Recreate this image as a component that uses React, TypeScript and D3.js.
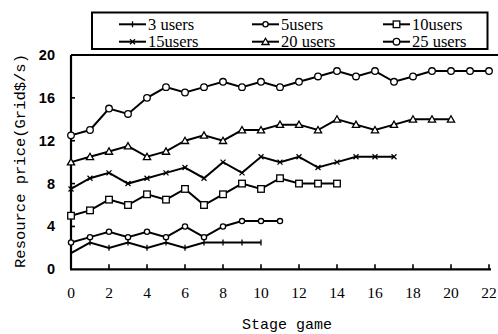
import React from "react";
import * as d3 from "d3";

const stages3 = d3.range(0, 11);
const users3 = [1.5, 2.5, 2, 2.5, 2, 2.5, 2, 2.5, 2.5, 2.5, 2.5];
const users5 = [2.5, 3, 3.5, 3, 3.5, 3, 4, 3, 4, 4.5, 4.5, 4.5];
const users10 = [5, 5.5, 6.5, 6, 7, 6.5, 7.5, 6, 7, 8, 7.5, 8.5, 8, 8, 8];
const users15 = [7.5, 8.5, 9, 8, 8.5, 9, 9.5, 8.5, 10, 9, 10.5, 10, 10.5, 9.5, 10, 10.5, 10.5, 10.5];
const users20 = [10, 10.5, 11, 11.5, 10.5, 11, 12, 12.5, 12, 13, 13, 13.5, 13.5, 13, 14, 13.5, 13, 13.5, 14, 14, 14];
const users25 = [12.5, 13, 15, 14.5, 16, 17, 16.5, 17, 17.5, 17, 17.5, 17, 17.5, 18, 18.5, 18, 18.5, 17.5, 18, 18.5, 18.5, 18.5, 18.5];

const seriesNames = ["3 users", "5users", "10users", "15users", "20 users", "25 users"];
const seriesValues = [users3, users5, users10, users15, users20, users25];
const markerTypes = ["plus", "smallCircle", "square", "cross", "triangle", "circle"];

const xTicks = d3.range(0, 23, 2);
const yTicks = [0, 4, 8, 12, 16, 20];

function Marker({ type, x, y }: { type: string; x: number; y: number }) {
  const sw = 1.3;
  switch (type) {
    case "plus":
      return <line x1={x} x2={x} y1={y - 3} y2={y + 3} stroke="#000" strokeWidth={sw} />;
    case "smallCircle":
      return <circle cx={x} cy={y} r={2.6} fill="#fff" stroke="#000" strokeWidth={sw} />;
    case "square":
      return <rect x={x - 3.3} y={y - 3.3} width={6.6} height={6.6} fill="#fff" stroke="#000" strokeWidth={sw} />;
    case "cross":
      return (
        <g stroke="#000" strokeWidth={sw}>
          <line x1={x - 2.5} x2={x + 2.5} y1={y - 2.5} y2={y + 2.5} />
          <line x1={x - 2.5} x2={x + 2.5} y1={y + 2.5} y2={y - 2.5} />
        </g>
      );
    case "triangle":
      return (
        <path
          d={`M${x},${y - 3.5}L${x + 3.6},${y + 2.8}L${x - 3.6},${y + 2.8}Z`}
          fill="#fff"
          stroke="#000"
          strokeWidth={sw}
        />
      );
    default:
      return <circle cx={x} cy={y} r={3.3} fill="#fff" stroke="#000" strokeWidth={sw} />;
  }
}

export default function App() {
  const W = 498;
  const H = 334;
  const x = d3.scaleLinear().domain([0, 22]).range([71, 489]);
  const y = d3.scaleLinear().domain([0, 20]).range([269.3, 55]);
  const line = d3
    .line<number>()
    .x((_, i) => x(i))
    .y((d) => y(d));

  const legendCols = [119, 252, 383];
  const legendRows = [24.3, 41.7];

  return (
    <svg
      width={W}
      height={H}
      style={{ position: "absolute", left: 0, top: 0, background: "#fff" }}
      fontFamily="'Liberation Serif', serif"
    >
      <rect width={W} height={H} fill="#fff" />
      {/* top border */}
      <line x1={x(0)} x2={W} y1={y(20)} y2={y(20)} stroke="#000" strokeWidth={2} />
      {/* axes */}
      <line x1={x(0)} x2={x(0)} y1={y(20)} y2={y(0)} stroke="#000" strokeWidth={2.2} />
      <line x1={x(0) - 1} x2={x(22) + 2} y1={y(0)} y2={y(0)} stroke="#000" strokeWidth={2.2} />
      {xTicks.map((t) => (
        <g key={"xt" + t}>
          {t > 0 && <line x1={x(t)} x2={x(t)} y1={y(0)} y2={y(0) - 5} stroke="#000" strokeWidth={1.6} />}
          <text x={x(t)} y={298} fontSize={15.5} textAnchor="middle" fontFamily="'Liberation Serif', serif">
            {t}
          </text>
        </g>
      ))}
      {yTicks.map((t) => (
        <g key={"yt" + t}>
          {t > 0 && t < 20 && (
            <line x1={x(0)} x2={x(0) + 4} y1={y(t)} y2={y(t)} stroke="#000" strokeWidth={1.6} />
          )}
          <text
            x={55}
            y={y(t) + 5}
            fontSize={14.5}
            fontWeight="bold"
            textAnchor="end"
            fontFamily="'Liberation Sans', sans-serif"
          >
            {t}
          </text>
        </g>
      ))}
      <text
        transform={`translate(25,${161}) rotate(-90)`}
        textAnchor="middle"
        fontSize={15.5}
        fontFamily="'Liberation Mono', monospace"
      >
        Resource price(Grid$/s)
      </text>
      <text x={287} y={329} textAnchor="middle" fontSize={15} fontFamily="'Liberation Mono', monospace">
        Stage game
      </text>

      {seriesValues.map((vals, si) => (
        <g key={"s" + si}>
          <path d={line(vals) || ""} fill="none" stroke="#000" strokeWidth={2} />
          {vals.map((v, i) => (
            <Marker key={i} type={markerTypes[si]} x={x(i)} y={y(v)} />
          ))}
        </g>
      ))}

      {/* legend */}
      <rect x={92} y={12.5} width={395.5} height={36.5} fill="#fff" stroke="#000" strokeWidth={2} />
      {seriesNames.map((name, si) => {
        const col = si % 3;
        const row = Math.floor(si / 3);
        const lx = legendCols[col];
        const ly = legendRows[row];
        return (
          <g key={"lg" + si}>
            <line x1={lx} x2={lx + 27} y1={ly} y2={ly} stroke="#000" strokeWidth={2} />
            <Marker type={markerTypes[si]} x={lx + 13.5} y={ly} />
            <text x={lx + 29} y={ly + 5.2} fontSize={16.5}>
              {name}
            </text>
          </g>
        );
      })}
    </svg>
  );
}
